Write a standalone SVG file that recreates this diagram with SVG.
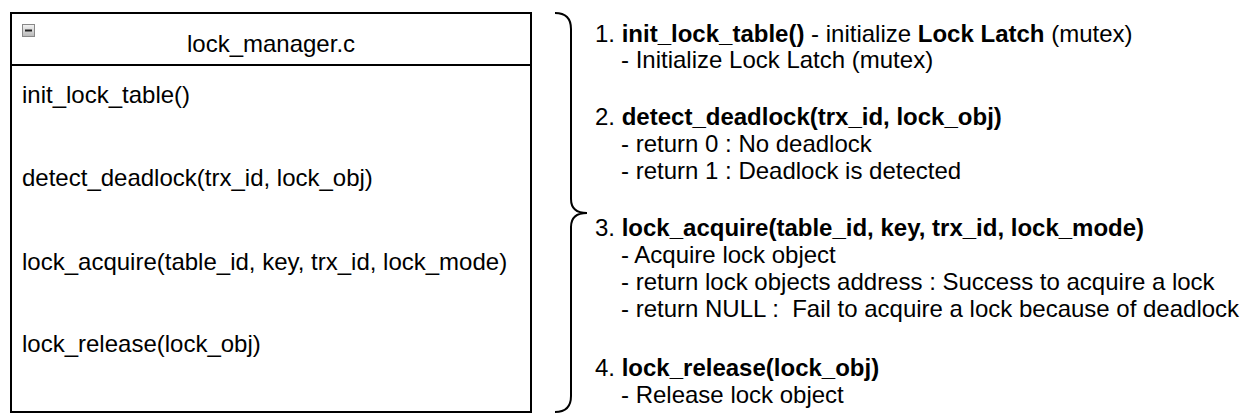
<svg xmlns="http://www.w3.org/2000/svg" width="1252" height="420" viewBox="0 0 1252 420">
<defs>
<linearGradient id="ig" x1="0" y1="0" x2="0" y2="1">
<stop offset="0" stop-color="#f4f4f4"/>
<stop offset="1" stop-color="#b8b8b8"/>
</linearGradient>
</defs>
<style>
text{font-family:"Liberation Sans",Arial,Helvetica,sans-serif;font-size:24px;fill:#000}
.b{font-weight:bold}
.line{fill:none;stroke:#000;stroke-width:2}
</style>
<rect width="1252" height="420" fill="#fff"/>
<g id="class-lock-manager">
<rect class="line" x="11" y="13" width="520" height="399" fill="#fff"/>
<line class="line" x1="11" y1="65" x2="531" y2="65"/>
<rect x="22.5" y="24.5" width="12" height="12" fill="url(#ig)" stroke="#888" stroke-width="1"/>
<line x1="25" y1="30.5" x2="32" y2="30.5" stroke="#222" stroke-width="2"/>
<text x="271" y="52" text-anchor="middle">lock_manager.c</text>
<text x="22" y="103">init_lock_table()</text>
<text x="22" y="186">detect_deadlock(trx_id, lock_obj)</text>
<text x="22" y="270">lock_acquire(table_id, key, trx_id, lock_mode)</text>
<text x="22" y="352">lock_release(lock_obj)</text>
</g>
<g id="connectors">
<path class="line" d="M555,13 Q571,13 571,29 L571,199 Q571,213 587,213 Q571,213 571,227 L571,396 Q571,412 555,412"/>
</g>
<g id="notes">
<text x="595" y="42">1. <tspan class="b">init_lock_table()</tspan> - initialize <tspan class="b">Lock Latch</tspan> (mutex)</text>
<text x="621" y="68">- Initialize Lock Latch (mutex)</text>
<text x="595" y="125">2. <tspan class="b">detect_deadlock(trx_id, lock_obj)</tspan></text>
<text x="621" y="152">- return 0 : No deadlock</text>
<text x="621" y="179">- return 1 : Deadlock is detected</text>
<text x="595" y="236">3. <tspan class="b">lock_acquire(table_id, key, trx_id, lock_mode)</tspan></text>
<text x="621" y="263">- Acquire lock object</text>
<text x="621" y="290">- return lock objects address : Success to acquire a lock</text>
<text x="621" y="317" xml:space="preserve">- return NULL :  Fail to acquire a lock because of deadlock</text>
<text x="595" y="376">4. <tspan class="b">lock_release(lock_obj)</tspan></text>
<text x="621" y="403">- Release lock object</text>
</g>
</svg>
